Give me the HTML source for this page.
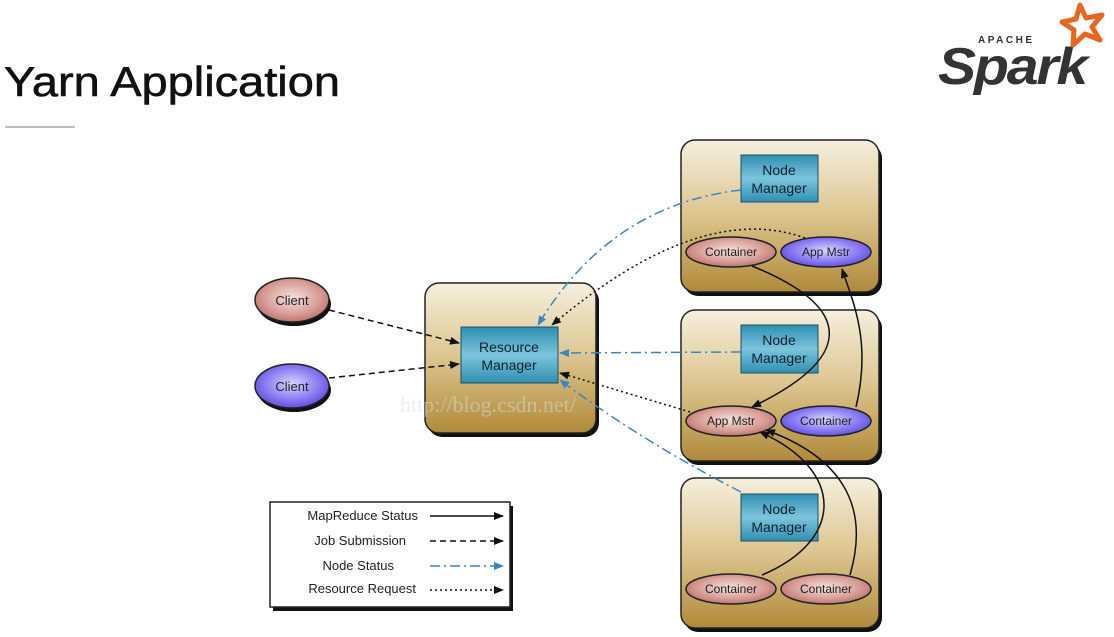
<!DOCTYPE html>
<html><head><meta charset="utf-8"><style>
html,body{margin:0;padding:0;background:#fff;}
svg{display:block;}
</style></head><body>
<svg width="1114" height="637" viewBox="0 0 1114 637" xmlns="http://www.w3.org/2000/svg" font-family="Liberation Sans, sans-serif">
<defs>
<linearGradient id="box" x1="0" y1="0" x2="0" y2="1">
<stop offset="0" stop-color="#f6efdd"/><stop offset="0.5" stop-color="#dcc48e"/><stop offset="1" stop-color="#b08a3a"/>
</linearGradient>
<linearGradient id="nm" x1="0" y1="0" x2="0" y2="1">
<stop offset="0" stop-color="#2f8fb0"/><stop offset="0.5" stop-color="#7cc4dc"/><stop offset="1" stop-color="#2f8fb0"/>
</linearGradient>
<radialGradient id="red" cx="0.5" cy="0.45" r="0.6">
<stop offset="0" stop-color="#f4e0dc"/><stop offset="0.6" stop-color="#d9a09a"/><stop offset="1" stop-color="#b86a66"/>
</radialGradient>
<radialGradient id="blue" cx="0.5" cy="0.45" r="0.6">
<stop offset="0" stop-color="#d8d4ff"/><stop offset="0.6" stop-color="#8a7cf2"/><stop offset="1" stop-color="#5a44e0"/>
</radialGradient>
<marker id="ab" markerWidth="10" markerHeight="8" refX="9" refY="4" orient="auto" markerUnits="userSpaceOnUse"><path d="M0,0 L10,4 L0,8 z" fill="#111"/></marker>
<marker id="abl" markerWidth="10" markerHeight="8" refX="9" refY="4" orient="auto" markerUnits="userSpaceOnUse"><path d="M0,0 L10,4 L0,8 z" fill="#3a86c0"/></marker>
</defs>

<text x="4" y="96" font-size="42" fill="#111" stroke="#111" stroke-width="0.6" textLength="336" lengthAdjust="spacingAndGlyphs">Yarn Application</text>
<line x1="5" y1="127" x2="75" y2="127" stroke="#aaa" stroke-width="1.5"/>

<!-- Spark logo -->
<text x="978" y="43" font-size="10" fill="#333" letter-spacing="2.5" font-weight="bold">APACHE</text>
<text x="938" y="84" font-size="52" fill="#333" font-weight="bold" font-style="italic" letter-spacing="-2" textLength="148" lengthAdjust="spacingAndGlyphs">Spark</text>
<path d="M1080,5 L1086,18 L1102,15 L1092,27 L1100,40 L1085,34 L1073,45 L1074,30 L1062,22 L1076,19 z" fill="none" stroke="#e8661f" stroke-width="5" stroke-linejoin="round"/>

<g>
<rect x="428" y="287" width="171" height="150" rx="14" fill="#111"/>
<rect x="425" y="283" width="171" height="150" rx="14" fill="url(#box)" stroke="#222" stroke-width="1.5"/>
<rect x="684" y="144" width="198" height="152" rx="14" fill="#111"/>
<rect x="681" y="140" width="198" height="152" rx="14" fill="url(#box)" stroke="#222" stroke-width="1.5"/>
<rect x="684" y="314" width="198" height="151" rx="14" fill="#111"/>
<rect x="681" y="310" width="198" height="151" rx="14" fill="url(#box)" stroke="#222" stroke-width="1.5"/>
<rect x="684" y="482" width="198" height="150" rx="14" fill="#111"/>
<rect x="681" y="478" width="198" height="150" rx="14" fill="url(#box)" stroke="#222" stroke-width="1.5"/>
</g>

<g font-size="14" fill="#123" text-anchor="middle">
<rect x="461" y="327" width="97" height="56" fill="url(#nm)" stroke="#1d4f66"/>
<text x="509" y="352">Resource</text><text x="509" y="370">Manager</text>
<rect x="741" y="155" width="77" height="47" fill="url(#nm)" stroke="#1d4f66"/>
<text x="779" y="175">Node</text><text x="779" y="193">Manager</text>
<rect x="741" y="325" width="77" height="48" fill="url(#nm)" stroke="#1d4f66"/>
<text x="779" y="345">Node</text><text x="779" y="363">Manager</text>
<rect x="741" y="494" width="77" height="47" fill="url(#nm)" stroke="#1d4f66"/>
<text x="779" y="514">Node</text><text x="779" y="532">Manager</text>
</g>

<g font-size="12" fill="#222" text-anchor="middle" stroke-width="1.5">
<ellipse cx="294" cy="304" rx="37" ry="22" fill="#111"/>
<ellipse cx="292" cy="300" rx="37" ry="22" fill="url(#red)" stroke="#222"/>
<text x="292" y="305" font-size="13">Client</text>
<ellipse cx="294" cy="390" rx="37" ry="22" fill="#111"/>
<ellipse cx="292" cy="386" rx="37" ry="22" fill="url(#blue)" stroke="#222"/>
<text x="292" y="391" font-size="13">Client</text>

<ellipse cx="731" cy="252" rx="45" ry="15" fill="url(#red)" stroke="#222"/><text x="731" y="256">Container</text>
<ellipse cx="826" cy="252" rx="45" ry="15" fill="url(#blue)" stroke="#222"/><text x="826" y="256">App Mstr</text>
<ellipse cx="731" cy="421" rx="45" ry="15" fill="url(#red)" stroke="#222"/><text x="731" y="425">App Mstr</text>
<ellipse cx="826" cy="421" rx="45" ry="15" fill="url(#blue)" stroke="#222"/><text x="826" y="425">Container</text>
<ellipse cx="731" cy="589" rx="45" ry="15" fill="url(#red)" stroke="#222"/><text x="731" y="593">Container</text>
<ellipse cx="826" cy="589" rx="45" ry="15" fill="url(#red)" stroke="#222"/><text x="826" y="593">Container</text>
</g>

<g fill="none" stroke-width="1.5">
<path d="M329,310 L459,343" stroke="#111" stroke-dasharray="6,4" marker-end="url(#ab)"/>
<path d="M329,378 L459,364" stroke="#111" stroke-dasharray="6,4" marker-end="url(#ab)"/>
<path d="M741,190 Q610,205 538,325" stroke="#3a86c0" stroke-dasharray="10,4,2,4" marker-end="url(#abl)"/>
<path d="M805,238 Q700,200 552,325" stroke="#111" stroke-dasharray="2,3" marker-end="url(#ab)"/>
<path d="M741,352 L560,353" stroke="#3a86c0" stroke-dasharray="10,4,2,4" marker-end="url(#abl)"/>
<path d="M690,412 L560,373" stroke="#111" stroke-dasharray="2,3" marker-end="url(#ab)"/>
<path d="M741,492 Q640,440 560,380" stroke="#3a86c0" stroke-dasharray="10,4,2,4" marker-end="url(#abl)"/>
<path d="M752,266 C860,310 850,360 752,407" stroke="#111" marker-end="url(#ab)"/>
<path d="M856,407 C872,340 852,300 842,269" stroke="#111" marker-end="url(#ab)"/>
<path d="M762,575 C845,540 845,470 760,432" stroke="#111" marker-end="url(#ab)"/>
<path d="M850,575 C872,500 835,455 766,430" stroke="#111" marker-end="url(#ab)"/>
</g>

<text x="400" y="412" font-size="22" fill="#ddd" font-family="Liberation Serif, serif" opacity="0.5">http://blog.csdn.net/</text>

<rect x="273" y="506" width="240" height="105" fill="#111"/>
<rect x="270" y="502" width="240" height="105" fill="#fff" stroke="#222" stroke-width="1.5"/>
<g font-size="13" fill="#222" text-anchor="end">
<text x="418" y="520">MapReduce Status</text>
<text x="406" y="545">Job Submission</text>
<text x="394" y="570">Node Status</text>
<text x="416" y="593">Resource Request</text>
</g>
<g fill="none" stroke-width="1.5">
<path d="M430,516 L503,516" stroke="#111" marker-end="url(#ab)"/>
<path d="M430,541 L503,541" stroke="#111" stroke-dasharray="6,4" marker-end="url(#ab)"/>
<path d="M430,566 L503,566" stroke="#3a86c0" stroke-dasharray="10,4,2,4" marker-end="url(#abl)"/>
<path d="M430,590 L503,590" stroke="#111" stroke-dasharray="2,3" marker-end="url(#ab)"/>
</g>
</svg>
</body></html>
